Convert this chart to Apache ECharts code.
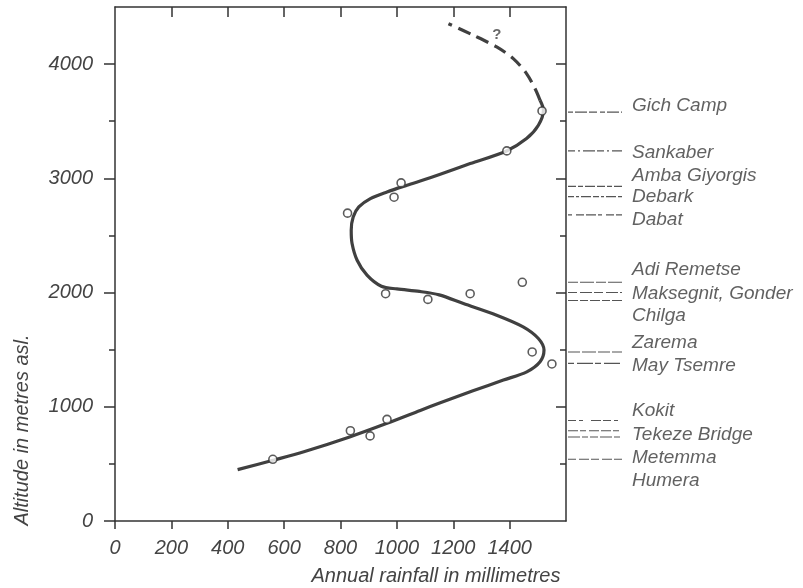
<!DOCTYPE html>
<html><head><meta charset="utf-8">
<script src="https://cdn.jsdelivr.net/npm/echarts@6/dist/echarts.min.js"></script>
<style>html,body{margin:0;padding:0;background:#fff}#c{width:803px;height:588px}</style>
</head><body><div id="c"></div>
<script>
// ---- data ----
const xTickValues = [0, 200, 400, 600, 800, 1000, 1200, 1400];
const xTopTickValues = [200, 400, 600, 800, 1000, 1200, 1400];
const yMajorTicks = [0, 1000, 2000, 3000, 4000];
const yMinorTicks = [500, 1500, 2500, 3500];

// observed stations: [rainfall mm, altitude m]
const stationPoints = [
  [560, 540], [835, 790], [905, 745], [965, 890],
  [1480, 1480], [1550, 1375],
  [960, 1990], [1110, 1940], [1260, 1990], [1445, 2090],
  [825, 2695], [990, 2835], [1015, 2960], [1390, 3240], [1515, 3590]
];

// fitted curve (solid part), traced bottom to top
const curveSolid = [
  [435, 450], [564, 534], [670, 606], [835, 738], [965, 855], [1083, 968], [1154, 1035],
  [1270, 1140], [1378, 1234], [1461, 1306], [1508, 1394], [1522, 1496], [1502, 1598], [1448, 1700],
  [1354, 1802], [1236, 1904], [1150, 1980], [1080, 2010], [1000, 2032], [945, 2055],
  [894, 2152], [859, 2283], [841, 2430], [838, 2546], [845, 2662], [865, 2750],
  [906, 2823], [965, 2881], [1036, 2940], [1118, 3005], [1260, 3129], [1389, 3240],
  [1460, 3348], [1502, 3465], [1520, 3596], [1508, 3683]
];
// uncertain extension (dashed)
const curveDashed = [
  [1508, 3683], [1490, 3786], [1460, 3917], [1413, 4048], [1354, 4150], [1272, 4252], [1183, 4354]
];
const questionMark = [[1355, 4257]];

// station legend on the right
const stationNames = ['Gich Camp', 'Sankaber', 'Amba Giyorgis', 'Debark', 'Dabat',
  'Adi Remetse', 'Maksegnit, Gonder', 'Chilga', 'Zarema', 'May Tsemre',
  'Kokit', 'Tekeze Bridge', 'Metemma', 'Humera'];
const stationLineAltitudes = [3580, 3240, 2930, 2840, 2680, 2090, 2000, 1930, 1480, 1380, 880, 790, 735, 540];
const stationLabelAltitudes = [3640, 3220, 3027, 2835, 2642, 2196, 1986, 1794, 1557, 1356, 962, 752, 551, 350];

// ---- styles ----
const dashStyles = [[5,2,12,2,8,3],[7,3,2,3,12,2],[8,2,5,2,10,2],[6,2,3,2,10,2],[4,4,8,2,10,2],
  [10,2,14,2],[9,3,12,2],[10,2,8,2],[12,2,14,2],[6,3,16,2],[8,3,4,8,10,2],[10,2,6,3,10,2],[12,2,6,2,8,2],[8,3,10,2]];

const FONT = 'Liberation Sans, Arial, Helvetica, sans-serif';
const AX = '#333';
const TXT = '#444';
const plain = v => String(v);

const chart = echarts.init(document.getElementById('c'), null, {renderer: 'canvas'});

const stationLineSeries = stationLineAltitudes.map((alt, i) => ({
  type: 'line', xAxisIndex: 2, yAxisIndex: 4, silent: true, symbol: 'none',
  data: [[0, alt], [1, alt]],
  lineStyle: {color: '#555', width: 1.1, type: dashStyles[i % dashStyles.length]}
}));

const axisLine = {onZero: false, lineStyle: {color: AX, width: 1.5}};
const option = {
  animation: false,
  backgroundColor: '#fff',
  grid: [
    {left: 115, right: 237, top: 7, bottom: 67, show: false},
    {left: 568, width: 54, top: 7, bottom: 67, show: false}
  ],
  xAxis: [
    {gridIndex: 0, type: 'value', position: 'bottom', min: 0, max: 1600, interval: 200,
      axisLine: axisLine,
      axisTick: {customValues: xTickValues, length: 8, lineStyle: {color: AX, width: 1.5}},
      axisLabel: {customValues: xTickValues, formatter: plain, margin: 17, fontSize: 20, fontStyle: 'italic', fontFamily: FONT, color: TXT},
      splitLine: {show: false}},
    {gridIndex: 0, type: 'value', position: 'top', min: 0, max: 1600, interval: 200,
      axisLine: axisLine,
      axisTick: {inside: true, customValues: xTopTickValues, length: 10, lineStyle: {color: AX, width: 1.5}},
      axisLabel: {show: false}, splitLine: {show: false}},
    {gridIndex: 1, type: 'value', min: 0, max: 1, show: false}
  ],
  yAxis: [
    {gridIndex: 0, type: 'value', position: 'left', min: 0, max: 4500, interval: 500,
      axisLine: axisLine,
      axisTick: {customValues: yMinorTicks, length: 6, lineStyle: {color: AX, width: 1.5}},
      axisLabel: {customValues: yMajorTicks, formatter: plain, margin: 22, fontSize: 20, fontStyle: 'italic', fontFamily: FONT, color: TXT},
      splitLine: {show: false}},
    {gridIndex: 0, type: 'value', position: 'left', min: 0, max: 4500, interval: 500,
      axisLine: {show: false, onZero: false},
      axisTick: {customValues: yMajorTicks, length: 11, lineStyle: {color: AX, width: 1.5}},
      axisLabel: {show: false}, splitLine: {show: false}},
    {gridIndex: 0, type: 'value', position: 'right', min: 0, max: 4500, interval: 500,
      axisLine: axisLine,
      axisTick: {inside: true, customValues: yMinorTicks, length: 6, lineStyle: {color: AX, width: 1.5}},
      axisLabel: {show: false}, splitLine: {show: false}},
    {gridIndex: 0, type: 'value', position: 'right', min: 0, max: 4500, interval: 500,
      axisLine: {show: false, onZero: false},
      axisTick: {inside: true, customValues: yMajorTicks.slice(1), length: 10, lineStyle: {color: AX, width: 1.5}},
      axisLabel: {show: false}, splitLine: {show: false}},
    {gridIndex: 1, type: 'value', min: 0, max: 4500, show: false}
  ],
  graphic: [
    {type: 'text', x: 22, y: 430, rotation: Math.PI / 2,
      style: {text: 'Altitude in metres asl.', font: 'italic 20px ' + FONT, fill: TXT, align: 'center', verticalAlign: 'middle'}},
    {type: 'text', x: 436, y: 576,
      style: {text: 'Annual rainfall in millimetres', font: 'italic 20px ' + FONT, fill: TXT, align: 'center', verticalAlign: 'middle'}}
  ],
  series: [
    {type: 'line', xAxisIndex: 0, yAxisIndex: 0, data: curveSolid, smooth: 0.3, symbol: 'none',
      lineStyle: {color: '#404040', width: 3.2}, z: 3},
    {type: 'line', xAxisIndex: 0, yAxisIndex: 0, data: curveDashed, smooth: 0.3, symbol: 'none',
      lineStyle: {color: '#404040', width: 3.2, type: [13, 7]}, z: 3},
    {type: 'scatter', xAxisIndex: 0, yAxisIndex: 0, data: stationPoints, symbol: 'circle', symbolSize: 8,
      itemStyle: {color: '#fff', borderColor: '#333', borderWidth: 1.6}, z: 5},
    {type: 'scatter', xAxisIndex: 0, yAxisIndex: 0, data: questionMark, symbolSize: 0,
      label: {show: true, position: 'inside', formatter: '?', fontSize: 15, fontWeight: 'bold', color: '#444', fontFamily: FONT}},
    ...stationLineSeries,
    {type: 'scatter', xAxisIndex: 2, yAxisIndex: 4, symbolSize: 0, silent: true,
      data: stationNames.map((n, i) => ({name: n, value: [1, stationLabelAltitudes[i]]})),
      label: {show: true, position: 'right', distance: 10, formatter: p => p.name,
        fontSize: 19, fontStyle: 'italic', fontFamily: FONT, color: '#3a3a3a'}}
  ]
};
chart.setOption(option);
</script>
</body></html>
